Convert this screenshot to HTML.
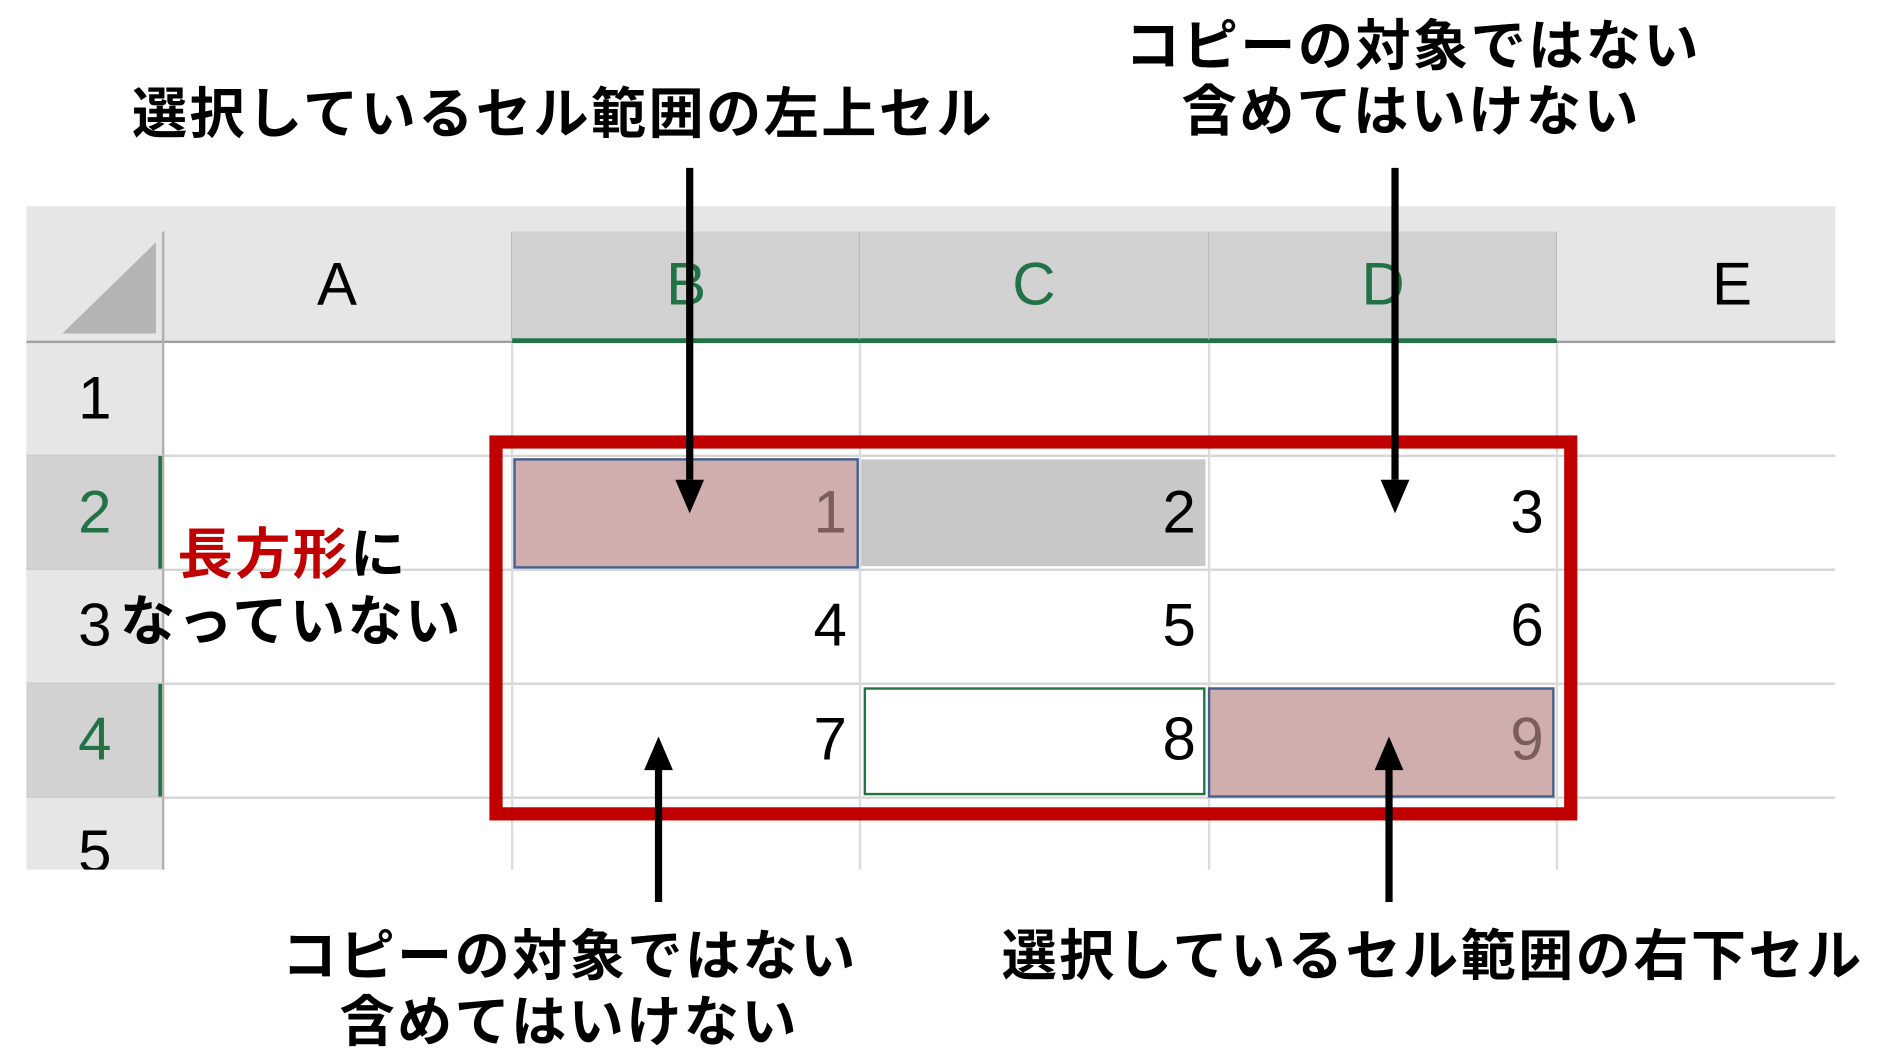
<!DOCTYPE html>
<html><head><meta charset="utf-8"><style>
html,body{margin:0;padding:0;background:#fff;overflow:hidden}
#w{width:1560px;height:882px;position:relative;transform:scale(1.1995,1.1995);transform-origin:0 0}
.a{position:absolute}
.t{position:absolute;white-space:nowrap;font-family:"Liberation Sans","Noto Sans CJK JP",sans-serif;font-weight:bold;font-size:46px;letter-spacing:2px;line-height:48px;color:#000}
.n{position:absolute;font-family:"Liberation Sans","Noto Sans CJK JP",sans-serif;font-size:50px;line-height:60px;color:#000;text-align:center;width:60px}
.r{position:absolute;font-family:"Liberation Sans",sans-serif;font-size:50px;line-height:60px;color:#000;text-align:right;width:200px}
</style></head><body><div id="w">
<div class="a" style="left:22px;top:172px;width:1508px;height:113px;background:#e6e6e6"></div>
<div class="a" style="left:22px;top:285px;width:114px;height:440px;background:#e6e6e6"></div>
<div class="a" style="left:22px;top:380px;width:111px;height:95px;background:#d2d2d2"></div>
<div class="a" style="left:22px;top:570px;width:111px;height:95px;background:#d2d2d2"></div>
<div class="a" style="left:132px;top:380px;width:4px;height:95px;background:#217346"></div>
<div class="a" style="left:132px;top:570px;width:4px;height:95px;background:#217346"></div>
<div class="a" style="left:427px;top:193px;width:871px;height:90px;background:#d2d2d2"></div>
<div class="a" style="left:22px;top:284px;width:1508px;height:2px;background:#a0a0a0"></div>
<div class="a" style="left:427px;top:282px;width:871px;height:4px;background:#217346"></div>
<div class="a" style="left:135px;top:193px;width:2px;height:532px;background:#b0b0b0"></div>
<div class="a" style="left:137px;top:379px;width:1393px;height:2px;background:#d6d6d6"></div>
<div class="a" style="left:137px;top:474px;width:1393px;height:2px;background:#d6d6d6"></div>
<div class="a" style="left:137px;top:569px;width:1393px;height:2px;background:#d6d6d6"></div>
<div class="a" style="left:137px;top:664px;width:1393px;height:2px;background:#d6d6d6"></div>
<div class="a" style="left:22px;top:379px;width:114px;height:1px;background:#c8c8c8"></div>
<div class="a" style="left:22px;top:474px;width:114px;height:1px;background:#c8c8c8"></div>
<div class="a" style="left:22px;top:569px;width:114px;height:1px;background:#c8c8c8"></div>
<div class="a" style="left:22px;top:664px;width:114px;height:1px;background:#c8c8c8"></div>
<div class="a" style="left:426px;top:286px;width:2px;height:439px;background:#dcdcdc"></div>
<div class="a" style="left:716px;top:286px;width:2px;height:439px;background:#dcdcdc"></div>
<div class="a" style="left:1007px;top:286px;width:2px;height:439px;background:#dcdcdc"></div>
<div class="a" style="left:1297px;top:286px;width:2px;height:439px;background:#dcdcdc"></div>
<div class="a" style="left:426px;top:193px;width:1px;height:90px;background:#bcbcbc"></div>
<div class="a" style="left:716px;top:193px;width:1px;height:90px;background:#bcbcbc"></div>
<div class="a" style="left:1007px;top:193px;width:1px;height:90px;background:#bcbcbc"></div>
<div class="a" style="left:1297px;top:193px;width:1px;height:90px;background:#bcbcbc"></div>
<svg class="a" style="left:0;top:0" width="200" height="300"><polygon points="52,278 130,202 130,278" fill="#b4b4b4"/></svg>
<div class="n" style="left:251px;top:207px">A</div>
<div class="n" style="left:542px;top:207px;color:#217346">B</div>
<div class="n" style="left:832px;top:207px;color:#217346">C</div>
<div class="n" style="left:1123px;top:207px;color:#217346">D</div>
<div class="n" style="left:1414px;top:207px">E</div>
<div class="n" style="left:49px;top:302px">1</div>
<div class="n" style="left:49px;top:397px;color:#217346">2</div>
<div class="n" style="left:49px;top:491px">3</div>
<div class="n" style="left:49px;top:586px;color:#217346">4</div>
<div class="n" style="left:49px;top:680px;height:45px;overflow:hidden">5</div>
<div class="a" style="left:428px;top:382px;width:284px;height:88px;background:#d0aeae;border:2px solid #44618f"></div>
<div class="a" style="left:718px;top:383px;width:287px;height:89px;background:#c8c8c8"></div>
<div class="a" style="left:720px;top:573px;width:281px;height:86px;border:2px solid #217346;background:#fff"></div>
<div class="a" style="left:1007px;top:573px;width:285px;height:88px;background:#d0aeae;border:2px solid #44618f"></div>
<div class="r" style="left:506px;top:397px;color:#7a5e5e">1</div>
<div class="r" style="left:797px;top:397px">2</div>
<div class="r" style="left:1087px;top:397px">3</div>
<div class="r" style="left:506px;top:491px">4</div>
<div class="r" style="left:797px;top:491px">5</div>
<div class="r" style="left:1087px;top:491px">6</div>
<div class="r" style="left:506px;top:586px">7</div>
<div class="r" style="left:797px;top:586px">8</div>
<div class="r" style="left:1087px;top:586px;color:#7a5e5e">9</div>
<div class="a" style="left:408px;top:363px;width:885px;height:299px;border:11px solid #c00000"></div>
<svg class="a" style="left:0;top:0" width="1560" height="882">
<g fill="#000" stroke="#000">
<line x1="575" y1="140" x2="575" y2="400" stroke-width="6"/><polygon points="563,400 587,400 575,428" stroke="none"/>
<line x1="1163" y1="140" x2="1163" y2="400" stroke-width="6"/><polygon points="1151,400 1175,400 1163,428" stroke="none"/>
<line x1="549" y1="752" x2="549" y2="640" stroke-width="6"/><polygon points="537,642 561,642 549,614" stroke="none"/>
<line x1="1158" y1="752" x2="1158" y2="640" stroke-width="6"/><polygon points="1146,642 1170,642 1158,614" stroke="none"/>
</g></svg>
<div class="t" style="left:110px;top:71px">選択しているセル範囲の左上セル</div>
<div class="t" style="left:938px;top:14px">コピーの対象ではない</div>
<div class="t" style="left:985px;top:69px">含めてはいけない</div>
<div class="t" style="left:235px;top:773px">コピーの対象ではない</div>
<div class="t" style="left:283px;top:828px">含めてはいけない</div>
<div class="t" style="left:835px;top:773px">選択しているセル範囲の右下セル</div>
<div class="t" style="left:148px;top:438px"><span style="color:#c00000">長方形</span>に</div>
<div class="t" style="left:100px;top:494px">なっていない</div>
</div></body></html>
